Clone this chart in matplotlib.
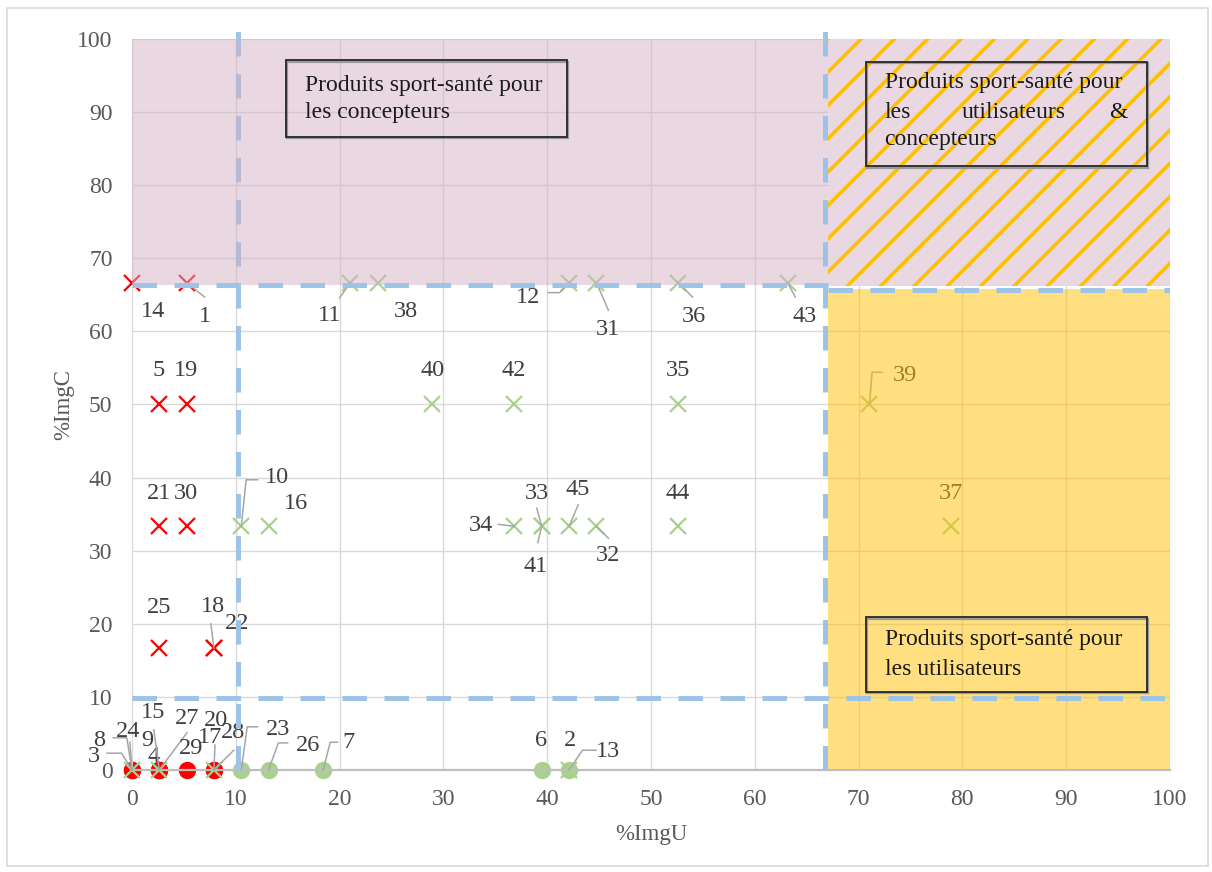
import matplotlib
matplotlib.use("Agg")
import matplotlib.pyplot as plt
from matplotlib.patches import Rectangle

plt.rcParams['font.family'] = ['Liberation Serif', 'DejaVu Serif']
plt.rcParams['hatch.linewidth'] = 2.6

# project id, %ImgU, %ImgC, marker, colour group
ids = list(range(1, 46))
img_u = [5.26, 42.11, 0, 2.63, 2.63, 39.47, 18.42, 0, 2.63, 10.53,
         21.05, 42.11, 42.11, 0, 2.63, 13.16, 7.89, 7.89, 5.26, 7.89,
         2.63, 7.89, 10.53, 0, 2.63, 13.16, 2.63, 7.89, 5.26, 5.26,
         44.74, 44.74, 39.47, 36.84, 52.63, 52.63, 78.95, 23.68, 71.05, 28.95,
         39.47, 36.84, 63.16, 52.63, 42.11]
img_c = [66.67, 0, 0, 0, 50, 0, 0, 0, 0, 33.33,
         66.67, 66.67, 0, 66.67, 0, 33.33, 0, 16.67, 50, 0,
         33.33, 16.67, 0, 0, 16.67, 0, 0, 0, 0, 33.33,
         66.67, 33.33, 33.33, 33.33, 50, 66.67, 33.33, 66.67, 50, 50,
         33.33, 50, 66.67, 33.33, 33.33]
markers = ['x', 'o', 'o', 'o', 'x', 'o', 'o', 'x', 'o', 'x',
           'x', 'x', 'x', 'x', 'x', 'x', 'x', 'x', 'x', 'o',
           'x', 'x', 'o', 'o', 'x', 'o', 'o', 'o', 'o', 'x',
           'x', 'x', 'x', 'x', 'x', 'x', 'x', 'x', 'x', 'x',
           'x', 'x', 'x', 'x', 'x']
groups = ['r', 'g', 'r', 'r', 'r', 'g', 'g', 'g', 'r', 'g',
          'g', 'g', 'g', 'r', 'g', 'g', 'g', 'r', 'r', 'r',
          'r', 'r', 'g', 'r', 'r', 'g', 'r', 'r', 'r', 'r',
          'g', 'g', 'g', 'g', 'g', 'g', 'g', 'g', 'g', 'g',
          'g', 'g', 'g', 'g', 'g']

# quadrant thresholds
u_split = 67.1
c_split = 66.3
u_low = 10.2
c_low = 9.9

# label placement (data coords) and leader line bends
label_pos = {
    1: (7.0, 62.0), 2: (42.2, 4.1), 3: (-3.7, 1.9), 4: (2.1, 1.8), 5: (2.6, 54.6),
    6: (39.4, 4.1), 7: (20.9, 3.8), 8: (-3.2, 4.1), 9: (1.5, 4.0), 10: (14.0, 40.0),
    11: (19.0, 62.2), 12: (38.2, 64.7), 13: (45.9, 2.5), 14: (2.0, 62.7), 15: (2.0, 7.8),
    16: (15.8, 36.5), 17: (7.5, 4.4), 18: (7.8, 22.3), 19: (5.2, 54.6), 20: (8.1, 6.8),
    21: (2.6, 37.8), 22: (10.1, 20.0), 23: (14.1, 5.5), 24: (-0.4, 5.3), 25: (2.6, 22.2),
    26: (17.0, 3.4), 27: (5.3, 7.1), 28: (9.7, 5.1), 29: (5.7, 2.9), 30: (5.2, 37.8),
    31: (45.9, 60.2), 32: (45.9, 29.3), 33: (39.0, 37.8), 34: (33.6, 33.5), 35: (52.6, 54.6),
    36: (54.1, 62.0), 37: (78.9, 37.8), 38: (26.4, 62.7), 39: (74.5, 54.0), 40: (29.0, 54.6),
    41: (38.9, 27.8), 42: (36.8, 54.6), 43: (64.8, 62.0), 44: (52.6, 37.8), 45: (42.9, 38.4),
}
leaders = {
    1: [(7.0, 64.7)], 3: [(-2.4, 2.3), (-1.0, 2.3)], 7: [(19.8, 3.8), (19.1, 3.8)],
    8: [(-1.8, 4.4), (-0.5, 4.4)], 10: [(12.1, 39.7), (11.0, 39.7)], 11: [(20.0, 64.6)],
    12: [(40.1, 65.3), (41.2, 65.3)], 13: [(44.7, 2.7), (43.4, 2.7)], 15: [(2.1, 5.5)],
    17: [(8.0, 3.4)], 18: [(7.6, 20.0)], 23: [(12.1, 5.9), (11.1, 5.9)], 24: [(-0.2, 3.8)],
    26: [(15.0, 3.7), (14.1, 3.7)], 27: [(5.3, 5.1)], 28: [(9.8, 2.7)], 31: [(45.9, 62.9)],
    32: [(45.9, 31.7)], 33: [(39.0, 35.8)], 34: [(35.3, 33.6)], 36: [(54.0, 64.7)],
    39: [(72.3, 54.4), (71.3, 54.4)], 41: [(39.1, 31.1)], 43: [(63.9, 64.7)], 45: [(43.0, 36.3)],
}

colours = {'r': '#FF0000', 'g': '#A9D18E'}
tick_col = '#595959'
dash_col = '#9DC3E6'
dash = (0, (4.9, 3.5))

fig = plt.figure(figsize=(12.12, 8.72), dpi=100)
ax = fig.add_axes([0.1089, 0.1170, 0.8564, 0.8383])
ax.set_xlim(0, 100)
ax.set_ylim(0, 100)
ax.set_xticks(range(0, 101, 10))
ax.set_yticks(range(0, 101, 10))
ax.grid(True, color='#D9D9D9', lw=1.0, zorder=0)
ax.set_axisbelow(True)
for s in ['top', 'right']:
    ax.spines[s].set_visible(False)
ax.spines['left'].set_color('#D9D9D9')
ax.spines['bottom'].set_color('#BFBFBF')
ax.spines['bottom'].set_linewidth(1.6)
ax.tick_params(length=0, pad=14, labelsize=17, labelcolor=tick_col)
ax.set_xlabel('%ImgU', fontsize=16.5, color=tick_col, labelpad=10)
ax.set_ylabel('%ImgC', fontsize=16.5, color=tick_col, labelpad=2)

# markers: circles first, crosses on top
for mk, z in [('o', 2), ('x', 3)]:
    for g in ['r', 'g']:
        xs = [u for u, m, gg in zip(img_u, markers, groups) if m == mk and gg == g]
        ys = [c for c, m, gg in zip(img_c, markers, groups) if m == mk and gg == g]
        if mk == 'o':
            ax.plot(xs, ys, 'o', ms=12.5, color=colours[g], mec='none', zorder=z, clip_on=False)
        else:
            ax.plot(xs, ys, 'x', ms=11, mew=1.6, color=colours[g], zorder=z, clip_on=False)

# data labels and leader lines
for i, u, c in zip(ids, img_u, img_c):
    lx, ly = label_pos[i]
    ax.text(lx, ly, str(i), fontsize=17.5, color='#404040', ha='center', va='center',
            zorder=4, clip_on=False)
    if i in leaders:
        pts = leaders[i] + [(u, c)]
        ax.plot([p[0] for p in pts], [p[1] for p in pts], color='#A6A6A6', lw=1.1,
                zorder=4, clip_on=False)

# low threshold vertical line (under the pink overlay)
ax.plot([u_low, u_low], [0, 102.5], color=dash_col, lw=3.6, ls=dash, zorder=4.5, clip_on=False)

# zones
ax.add_patch(Rectangle((0, c_split), u_split, 100 - c_split, facecolor='#D4B3C6',
                       alpha=0.5, edgecolor='none', zorder=5))
ax.add_patch(Rectangle((u_split, 0), 100 - u_split, c_split - 0.5, facecolor='#FFC000',
                       alpha=0.5, edgecolor='none', zorder=5))
ax.add_patch(Rectangle((u_split, c_split - 0.1), 100 - u_split, 100 - c_split + 0.1,
                       facecolor='#E9D8E2', edgecolor='#FFC000', hatch='/', lw=0, zorder=5))

# dashed thresholds
ax.plot([0, u_split], [c_split, c_split], color=dash_col, lw=3.6, ls=dash, zorder=6, clip_on=False)
ax.plot([u_split, 100], [c_split - 0.6, c_split - 0.6], color=dash_col, lw=3.6, ls=dash, zorder=6)
ax.plot([0, 100], [c_low, c_low], color=dash_col, lw=3.6, ls=dash, zorder=6)
ax.plot([u_split - 0.3, u_split - 0.3], [0, 101.3], color=dash_col, lw=3.6, ls=dash,
        zorder=6, clip_on=False)

# zone captions
def caption_box(x0, y0, w, h):
    ax.add_patch(Rectangle((x0 + 0.12, y0 - 0.2), w, h, facecolor='none',
                           edgecolor='#9A9A9A', lw=1.6, zorder=7, clip_on=False))
    ax.add_patch(Rectangle((x0, y0), w, h, facecolor='none', edgecolor='#262626',
                           lw=1.3, zorder=7.5, clip_on=False))

txt = dict(fontsize=17, color='#1A1A1A', va='center', zorder=8)
caption_box(14.8, 86.6, 27.1, 10.5)
ax.text(16.7, 93.7, 'Produits sport-santé pour', ha='left', **txt)
ax.text(16.7, 89.9, 'les concepteurs', ha='left', **txt)

caption_box(70.7, 82.6, 27.1, 14.3)
ax.text(72.5, 94.0, 'Produits sport-santé pour', ha='left', **txt)
ax.text(72.5, 90.0, 'les', ha='left', **txt)
ax.text(84.9, 90.0, 'utilisateurs', ha='center', **txt)
ax.text(95.9, 90.0, '&', ha='right', **txt)
ax.text(72.5, 86.2, 'concepteurs', ha='left', **txt)

caption_box(70.7, 10.7, 27.1, 10.2)
ax.text(72.5, 17.8, 'Produits sport-santé pour', ha='left', **txt)
ax.text(72.5, 13.8, 'les utilisateurs', ha='left', **txt)

# outer chart border
fig.patches.append(Rectangle((7 / 1212, 6 / 872), 1201 / 1212, 858 / 872, transform=fig.transFigure,
                             facecolor='none', edgecolor='#D9D9D9', lw=1.2))

fig.savefig('out.png', dpi=100)
